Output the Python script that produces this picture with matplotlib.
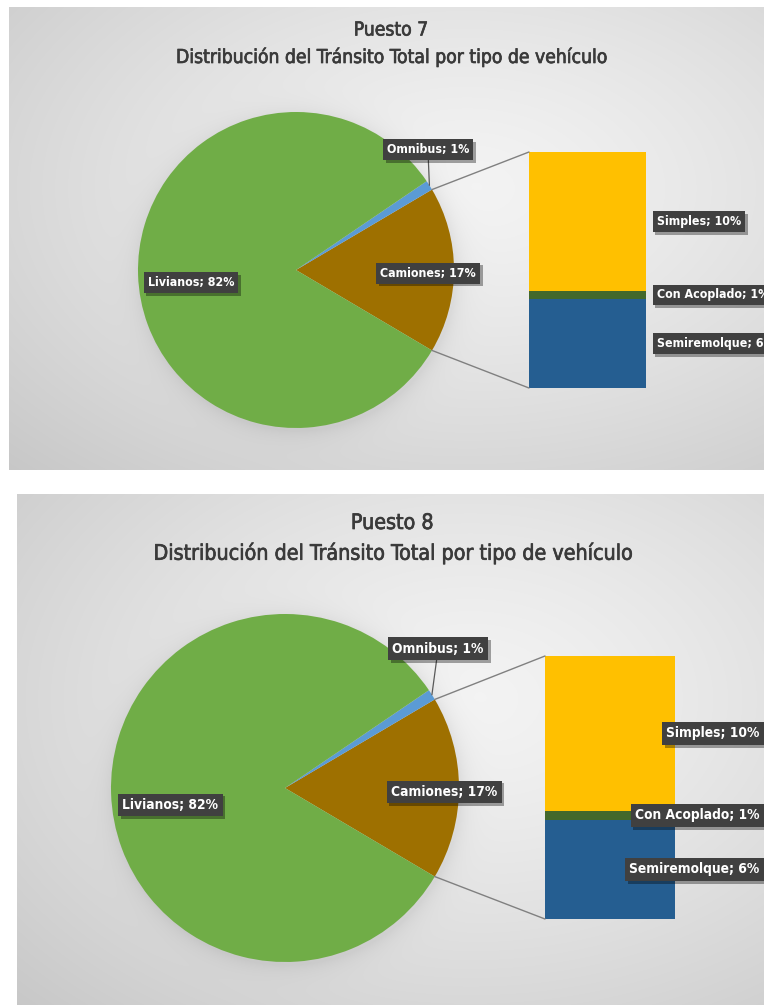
import numpy as np
import matplotlib
matplotlib.use("Agg")
import matplotlib.pyplot as plt
import matplotlib.transforms as mtransforms
from matplotlib import font_manager
from matplotlib.font_manager import FontProperties
from matplotlib.patches import ConnectionPatch
import matplotlib.patheffects as pe

# ---------------- data ----------------
titles = ["Puesto 7", "Puesto 8"]
subtitle = "Distribución del Tránsito Total por tipo de vehículo"

pie_categories = ["Livianos", "Omnibus", "Camiones"]
pie_p7 = [82, 1, 17]
pie_p8 = [82, 1, 17]

bar_categories = ["Semiremolque", "Con Acoplado", "Simples"]
bar_p7 = [6.4, 0.6, 10.0]
bar_p8 = [6.4, 0.6, 10.0]

pie_colors = {"Livianos": "#70AD47", "Omnibus": "#5B9BD5", "Camiones": "#9E7000"}
bar_colors = {"Semiremolque": "#255E91", "Con Acoplado": "#43682B", "Simples": "#FFC000"}


# ---------------- fonts: prefer a narrow / condensed face ----------------
def pick_font(bold):
    narrow = []
    for f in font_manager.fontManager.ttflist:
        name = f.fname.lower()
        if ("narrow" in name or "condensed" in name) and f.style == "normal":
            w = f.weight if isinstance(f.weight, int) else (700 if "bold" in str(f.weight) else 400)
            if (w >= 600) == bold and "semi" not in name and "light" not in name \
                    and "extra" not in name and "black" not in name and "medium" not in name:
                narrow.append(f.fname)
    narrow.sort(key=lambda p: (0 if "liberation" in p.lower() else 1 if "dejavu" in p.lower() else 2, p))
    if narrow:
        return FontProperties(fname=narrow[0])
    return FontProperties(family=["Liberation Sans", "DejaVu Sans"],
                          weight="bold" if bold else "normal")


FP_TITLE = pick_font(bold=False)
FP_LABEL = pick_font(bold=True)

W, H = 764, 1005
fig = plt.figure(figsize=(W / 100, H / 100), dpi=100)
fig.patch.set_facecolor("white")
renderer = fig.canvas.get_renderer()


def fitted_size(text, fp, target_px, base=12.0):
    t = fig.text(0, 0, text, fontproperties=fp, fontsize=base)
    w = t.get_window_extent(renderer).width
    t.remove()
    return base * target_px / w


def px_axes(x0, y0, x1, y1, z=1):
    ax = fig.add_axes([x0 / W, 1 - y1 / H, (x1 - x0) / W, (y1 - y0) / H])
    ax.set_zorder(z)
    ax.patch.set_alpha(0)
    return ax


def panel_background(x0, y0, x1, y1, pie_c, pie_r):
    ax = px_axes(x0, y0, x1, y1, z=0)
    xs = np.arange(x0, x1) + 0.5
    ys = np.arange(y0, y1) + 0.5
    X, Y = np.meshgrid(xs, ys)
    cx, cy = (x0 + x1) / 2 + 80, (y0 + y1) / 2 - 50
    d = np.sqrt(((X - cx) / ((x1 - x0) / 2)) ** 2 + ((Y - cy) / ((y1 - y0) / 2)) ** 2) / np.sqrt(2)
    v = 0.955 - 0.135 * np.clip(d, 0, 1.3) ** 1.3
    # soft shadow around the pie
    dp = np.sqrt((X - pie_c[0] - 2) ** 2 + (Y - pie_c[1] - 3) ** 2)
    v -= 0.06 * np.exp(-np.clip(dp - pie_r, 0, None) / 10.0)
    img = np.dstack([v, v, v]).clip(0, 1)
    ax.imshow(img, extent=(x0, x1, y1, y0), interpolation="bilinear", aspect="auto")
    ax.set_xlim(x0, x1)
    ax.set_ylim(y1, y0)
    ax.axis("off")


def data_label(ax, x, y, text, fs, ha="center", transform=None, arrow_to=None):
    kw = dict(fontproperties=FP_LABEL, fontsize=fs, color="white", ha=ha, va="center",
              bbox=dict(boxstyle="square,pad=0.32", fc="#404040", ec="none"), zorder=10)
    if transform is not None:
        kw["transform"] = transform
    if arrow_to is not None:
        t = ax.annotate(text, xy=arrow_to, xytext=(x, y),
                        arrowprops=dict(arrowstyle="-", color="#595959", lw=0.9,
                                        shrinkA=0, shrinkB=0), **kw)
    else:
        t = ax.text(x, y, text, **kw)
    t.get_bbox_patch().set_path_effects(
        [pe.withSimplePatchShadow(offset=(2, -2), shadow_rgbFace="black", alpha=0.35)])
    t.set_clip_on(False)
    return t


def draw_chart(layout, title, pie_vals, bar_vals):
    x0, y0, x1, y1 = layout["panel"]
    (pcx, pcy), r = layout["pie_center"], layout["pie_r"]
    panel_background(x0, y0, x1, y1, (pcx, pcy), r)

    # titles
    tfs = fitted_size(subtitle, FP_TITLE, layout["title_w"])
    for txt, ty in ((title, layout["title_y"][0]), (subtitle, layout["title_y"][1])):
        fig.text(layout["title_x"] / W, 1 - ty / H, txt, fontproperties=FP_TITLE,
                 ha="center", va="center", fontsize=tfs, color="#3a3a3a",
                 path_effects=[pe.withStroke(linewidth=0.5, foreground="#3a3a3a")])

    # pie (camiones centred on the right, then omnibus, then livianos)
    vals = dict(zip(pie_categories, pie_vals))
    order = ["Camiones", "Omnibus", "Livianos"]
    total = sum(pie_vals)
    start = -vals["Camiones"] / total * 360 / 2
    axp = px_axes(pcx - r, pcy - r, pcx + r, pcy + r, z=2)
    axp.pie([vals[k] for k in order], colors=[pie_colors[k] for k in order],
            startangle=start, counterclock=True, radius=1,
            wedgeprops=dict(linewidth=0))
    axp.set_xlim(-1, 1)
    axp.set_ylim(-1, 1)
    axp.axis("off")

    # secondary stacked bar
    bx0, by0, bx1, by1 = layout["bar"]
    axb = px_axes(bx0, by0, bx1, by1, z=2)
    bottom = 0
    centers = []
    for cat, v in zip(bar_categories, bar_vals):
        axb.bar(0, v, bottom=bottom, width=1, color=bar_colors[cat], linewidth=0)
        centers.append(bottom + v / 2)
        bottom += v
    axb.set_xlim(-0.5, 0.5)
    axb.set_ylim(0, bottom)
    axb.axis("off")

    # connector lines pie -> bar
    a_top = np.deg2rad(start + vals["Camiones"] / total * 360)
    a_bot = np.deg2rad(start)
    for ang, yb in ((a_top, bottom), (a_bot, 0)):
        con = ConnectionPatch(xyA=(np.cos(ang), np.sin(ang)), coordsA=axp.transData,
                              xyB=(-0.5, yb), coordsB=axb.transData,
                              color="#808080", lw=1.0, zorder=3)
        fig.add_artist(con)

    # pie labels
    fs = fitted_size("Camiones; 17%", FP_LABEL, layout["label_w"])
    for cat in pie_categories:
        lx, ly = layout["pie_labels"][cat]
        text = f"{cat}; {vals[cat]:.0f}%"
        if cat == "Omnibus":
            mid = np.deg2rad(start + (vals["Camiones"] + vals["Omnibus"] / 2) / total * 360)
            data_label(axp, lx, ly, text, fs, arrow_to=(np.cos(mid), np.sin(mid)))
        else:
            data_label(axp, lx, ly, text, fs)

    # bar labels
    lx, ha = layout["bar_label_x"]
    trans = mtransforms.blended_transform_factory(axb.transAxes, axb.transData)
    for cat, v, c in zip(bar_categories, bar_vals, centers):
        data_label(axb, lx, c, f"{cat}; {v:.0f}%", fs, ha=ha, transform=trans)


layout7 = dict(panel=(9, 7, 764, 470), pie_center=(296, 270), pie_r=158,
               bar=(529, 152, 646, 388), title_x=391, title_y=(30, 57), title_w=432,
               label_w=96,
               pie_labels={"Livianos": (-0.665, -0.08), "Omnibus": (0.835, 0.76),
                           "Camiones": (0.835, -0.02)},
               bar_label_x=(1.09, "left"))
layout8 = dict(panel=(17, 494, 764, 1005), pie_center=(285, 788), pie_r=174,
               bar=(545, 656, 675, 919), title_x=392, title_y=(523, 553), title_w=480,
               label_w=106,
               pie_labels={"Livianos": (-0.66, -0.098), "Omnibus": (0.88, 0.80),
                           "Camiones": (0.914, -0.023)},
               bar_label_x=(1.65, "right"))

draw_chart(layout7, titles[0], pie_p7, bar_p7)
draw_chart(layout8, titles[1], pie_p8, bar_p8)

fig.savefig("out.png", dpi=100, facecolor="white")
